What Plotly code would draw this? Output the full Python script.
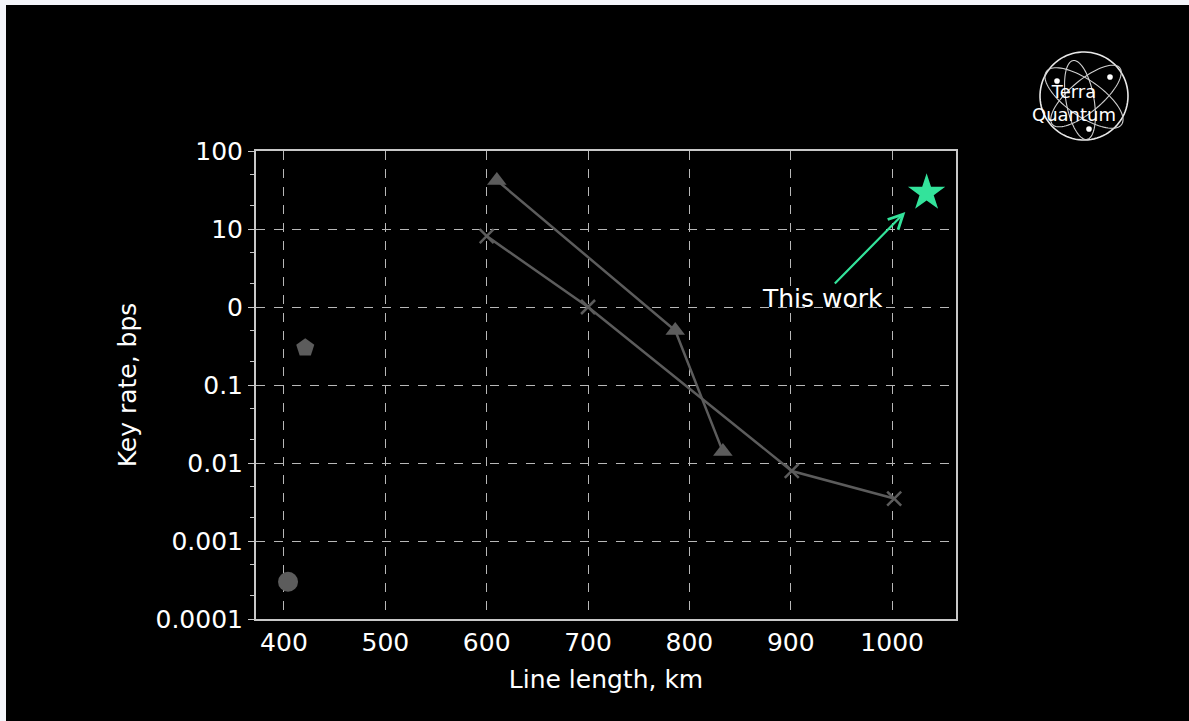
import numpy as np
import plotly.graph_objects as go

# ---- data ----
circle_x = [404]
circle_y = [0.0003]
pent_x = [421]
pent_y = [0.3]
tri_x = [610, 786, 833]
tri_y = [42, 0.5, 0.014]
cross_x = [600, 700, 901, 1002]
cross_y = [8.1, 1.0, 0.0079, 0.0035]
star_x = [1034]
star_y = [29]

y_tickvals = [0.0001, 0.001, 0.01, 0.1, 1, 10, 100]
y_ticktext = ["0.0001", "0.001", "0.01", "0.1", "0", "10", "100"]
x_tickvals = [400, 500, 600, 700, 800, 900, 1000]

W, H = 1189, 721
L, R, T, B = 256, 956, 151, 619
FONT = "DejaVu Sans"
GRAY = "#5c5c5c"
GREEN = "#33e39b"


def px2paper(px, py):
    return (px - L) / (R - L), (B - py) / (B - T)


fig = go.Figure()
fig.add_trace(go.Scatter(x=tri_x, y=tri_y, mode="lines+markers",
                         line=dict(color=GRAY, width=2.5),
                         marker=dict(symbol="triangle-up", size=17, color=GRAY)))
fig.add_trace(go.Scatter(x=cross_x, y=cross_y, mode="lines+markers",
                         line=dict(color=GRAY, width=2.5),
                         marker=dict(symbol="x-thin", size=14, color=GRAY,
                                     line=dict(color=GRAY, width=2.5))))
fig.add_trace(go.Scatter(x=circle_x, y=circle_y, mode="markers",
                         marker=dict(symbol="circle", size=20, color=GRAY)))
fig.add_trace(go.Scatter(x=pent_x, y=pent_y, mode="markers",
                         marker=dict(symbol="pentagon", size=19, color=GRAY)))
fig.add_trace(go.Scatter(x=star_x, y=star_y, mode="markers",
                         marker=dict(symbol="star", size=28, color=GREEN)))

shapes = []
# white strips at top and left
x0, _ = px2paper(0, 0)
x1, _ = px2paper(6, 0)
xr, _ = px2paper(W, 0)
_, y0 = px2paper(0, H)
_, y1 = px2paper(0, 0)
_, y5 = px2paper(0, 5)
shapes.append(dict(type="rect", xref="paper", yref="paper", x0=x0, x1=x1, y0=y0, y1=y1,
                   fillcolor="#f4f5fa", line=dict(width=0), layer="below"))
shapes.append(dict(type="rect", xref="paper", yref="paper", x0=x0, x1=xr, y0=y5, y1=y1,
                   fillcolor="#f4f5fa", line=dict(width=0), layer="below"))

# logo: circle + orbits
cx, cy, r = 1084, 96, 44


def path_from(pts):
    s = ""
    for i, (a, b) in enumerate(pts):
        xa, yb = px2paper(a, b)
        s += ("M" if i == 0 else "L") + f"{xa:.5f},{yb:.5f}"
    return s


t = np.linspace(0, 2 * np.pi, 90)
shapes.append(dict(type="path", xref="paper", yref="paper",
                   path=path_from(zip(cx + r * np.cos(t), cy + r * np.sin(t))) + "Z",
                   line=dict(color="#e8e8e8", width=1.6)))
for ang, a, b, dx, dy in [(35, 46, 18, 0, 2), (-40, 44, 16, 2, 0), (80, 40, 14, -4, 4)]:
    th = np.radians(ang)
    ex = a * np.cos(t)
    ey = b * np.sin(t)
    pts = zip(cx + dx + ex * np.cos(th) - ey * np.sin(th), cy + dy + ex * np.sin(th) + ey * np.cos(th))
    shapes.append(dict(type="path", xref="paper", yref="paper", path=path_from(pts) + "Z",
                       line=dict(color="#cfcfcf", width=1.1)))
for (dxp, dyp) in [(1057, 81), (1110, 77), (1089, 129)]:
    xa, yb = px2paper(dxp, dyp)
    shapes.append(dict(type="circle", xref="paper", yref="paper",
                       x0=xa - 0.004, x1=xa + 0.004, y0=yb - 0.006, y1=yb + 0.006,
                       fillcolor="#ffffff", line=dict(width=0)))

annotations = []
lx, ly = px2paper(1074, 103)
annotations.append(dict(xref="paper", yref="paper", x=lx, y=ly, text="Terra<br>Quantum",
                        showarrow=False, align="center", xanchor="center", yanchor="middle",
                        font=dict(family=FONT, size=18, color="white")))
# arrow
annotations.append(dict(x=1013, y=1.218, ax=942, ay=0.282, xref="x", yref="y", axref="x", ayref="y",
                        text="", showarrow=True, arrowhead=5, arrowsize=1.3, arrowwidth=2.2,
                        arrowcolor=GREEN))
annotations.append(dict(x=931, y=0.115, xref="x", yref="y", text="This work", showarrow=False,
                        xanchor="center",
                        font=dict(family=FONT, size=25, color="white")))

fig.update_layout(
    width=W, height=H,
    margin=dict(l=L, r=W - R, t=T, b=H - B),
    paper_bgcolor="black", plot_bgcolor="black",
    showlegend=False,
    shapes=shapes, annotations=annotations,
    font=dict(family=FONT, color="white"),
)
fig.update_xaxes(range=[372.4, 1063], tickvals=x_tickvals, ticks="",
                 showgrid=True, gridcolor="#b8b8b8", griddash="dash", gridwidth=1,
                 showline=True, linecolor="#c8c8c8", linewidth=2, mirror=True,
                 zeroline=False,
                 tickfont=dict(family=FONT, size=25, color="white"),
                 title=dict(text="Line length, km", font=dict(family=FONT, size=25, color="white"),
                            standoff=14))
fig.update_yaxes(type="log", range=[-4, 2], tickvals=y_tickvals, ticktext=y_ticktext,
                 ticks="outside", ticklen=6, tickcolor="#c8c8c8",
                 minor=dict(ticks="outside", ticklen=4, tickcolor="#c8c8c8", showgrid=False),
                 showgrid=True, gridcolor="#b8b8b8", griddash="dash", gridwidth=1,
                 showline=True, linecolor="#c8c8c8", linewidth=2, mirror=True,
                 zeroline=False,
                 tickfont=dict(family=FONT, size=25, color="white"),
                 title=dict(text="Key rate, bps", font=dict(family=FONT, size=25, color="white"),
                            standoff=12))

fig.write_html("out.html")
